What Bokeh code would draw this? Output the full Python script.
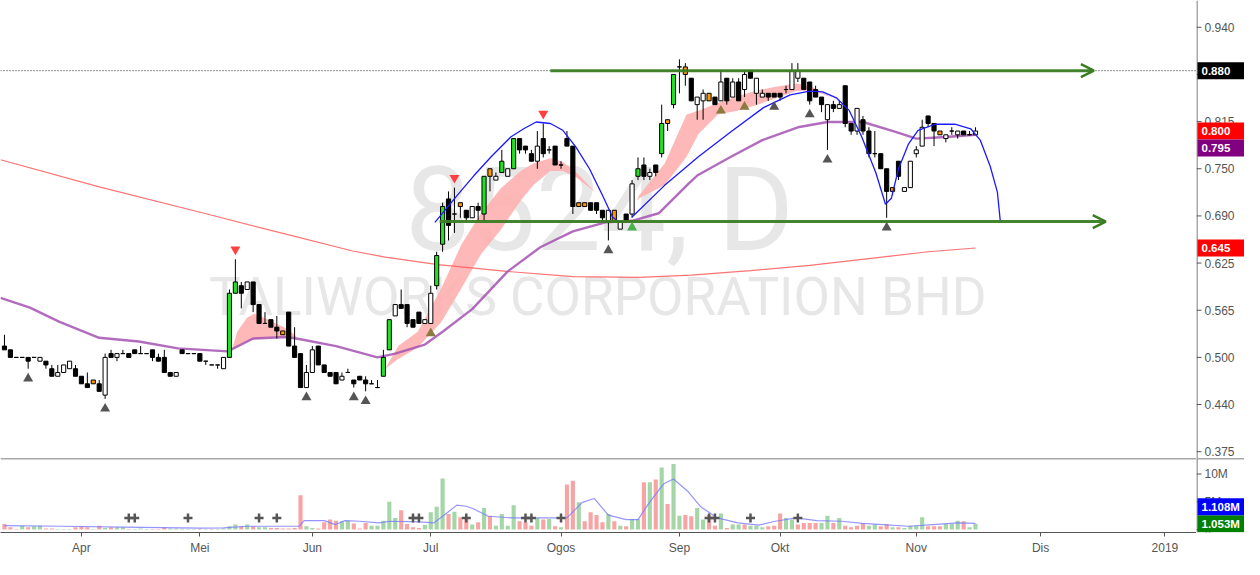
from bokeh.plotting import figure
from bokeh.models import ColumnDataSource, Range1d, FixedTicker, Span, Arrow, OpenHead
from bokeh.layouts import column, row
from bokeh.embed import file_html
from bokeh.resources import INLINE
from bokeh.core.properties import value

# ---------------- data ----------------
opens = [0.515,0.510,0.500,0.500,0.500,0.500,0.495,0.495,0.485,0.475,
         0.480,0.485,0.485,0.475,0.465,0.465,0.465,0.450,0.505,0.500,
         0.505,0.505,0.510,0.505,0.505,0.510,0.500,0.500,0.480,0.475,
         0.510,0.505,0.505,0.505,0.495,0.490,0.490,0.485,0.500,0.585,
         0.595,0.590,0.600,0.570,0.545,0.550,0.540,0.530,0.560,0.515,
         0.505,0.460,0.480,0.515,0.490,0.480,0.480,0.470,0.480,0.470,
         0.475,0.470,0.465,0.460,0.475,0.510,0.555,0.570,0.570,0.550,
         0.560,0.545,0.545,0.595,0.650,0.710,0.690,0.700,0.695,0.685,
         0.700,0.690,0.740,0.735,0.745,0.740,0.750,0.790,0.780,0.770,
         0.760,0.790,0.775,0.780,0.755,0.790,0.780,0.700,0.700,0.705,
         0.705,0.695,0.680,0.680,0.670,0.690,0.690,0.740,0.755,0.740,
         0.755,0.770,0.810,0.835,0.885,0.875,0.870,0.835,0.840,0.840,
         0.845,0.840,0.870,0.845,0.865,0.855,0.880,0.850,0.845,0.850,
         0.850,0.850,0.855,0.855,0.870,0.870,0.865,0.855,0.845,0.815,
         0.835,0.830,0.860,0.810,0.800,0.815,0.800,0.770,0.770,0.750,
         0.720,0.760,0.720,0.725,0.770,0.780,0.820,0.810,0.795,0.790,
         0.800,0.795,0.800,0.795,0.795]
highs = [0.530,0.510,0.500,0.500,0.500,0.500,0.500,0.495,0.490,0.490,
         0.490,0.495,0.490,0.475,0.480,0.470,0.470,0.505,0.510,0.505,
         0.510,0.505,0.510,0.515,0.505,0.510,0.505,0.510,0.480,0.480,
         0.510,0.505,0.505,0.505,0.495,0.490,0.490,0.500,0.590,0.630,
         0.600,0.600,0.600,0.570,0.560,0.550,0.555,0.535,0.560,0.540,
         0.505,0.490,0.515,0.515,0.490,0.480,0.480,0.480,0.485,0.470,
         0.475,0.475,0.470,0.470,0.510,0.550,0.570,0.590,0.570,0.550,
         0.560,0.550,0.595,0.640,0.705,0.720,0.725,0.705,0.695,0.700,
         0.705,0.740,0.750,0.745,0.775,0.750,0.790,0.790,0.780,0.775,
         0.800,0.810,0.780,0.780,0.760,0.800,0.780,0.705,0.705,0.705,
         0.705,0.695,0.695,0.695,0.680,0.690,0.735,0.765,0.765,0.750,
         0.755,0.835,0.815,0.875,0.895,0.890,0.870,0.845,0.855,0.850,
         0.845,0.880,0.870,0.870,0.870,0.880,0.880,0.870,0.855,0.850,
         0.850,0.850,0.860,0.890,0.890,0.870,0.865,0.860,0.845,0.835,
         0.840,0.840,0.860,0.810,0.830,0.820,0.805,0.800,0.770,0.750,
         0.725,0.760,0.725,0.760,0.780,0.815,0.820,0.810,0.800,0.795,
         0.805,0.800,0.800,0.800,0.805]
lows =  [0.510,0.500,0.500,0.500,0.485,0.500,0.495,0.485,0.475,0.475,
         0.480,0.485,0.475,0.465,0.460,0.465,0.455,0.445,0.500,0.495,
         0.505,0.500,0.505,0.505,0.505,0.495,0.495,0.480,0.475,0.475,
         0.505,0.505,0.505,0.495,0.490,0.490,0.485,0.485,0.500,0.585,
         0.565,0.590,0.560,0.545,0.545,0.540,0.525,0.530,0.515,0.500,
         0.460,0.460,0.480,0.490,0.480,0.475,0.465,0.470,0.480,0.460,
         0.470,0.455,0.465,0.460,0.475,0.510,0.555,0.565,0.540,0.540,
         0.545,0.545,0.545,0.590,0.640,0.655,0.665,0.685,0.680,0.685,
         0.680,0.680,0.720,0.735,0.745,0.740,0.750,0.770,0.770,0.760,
         0.750,0.765,0.770,0.755,0.750,0.780,0.690,0.700,0.700,0.695,
         0.690,0.680,0.655,0.680,0.670,0.680,0.685,0.735,0.735,0.735,
         0.740,0.765,0.800,0.830,0.850,0.860,0.840,0.815,0.815,0.840,
         0.835,0.840,0.835,0.845,0.840,0.845,0.870,0.835,0.845,0.840,
         0.845,0.840,0.850,0.855,0.865,0.855,0.835,0.845,0.825,0.775,
         0.825,0.830,0.805,0.795,0.795,0.795,0.765,0.765,0.750,0.685,
         0.715,0.735,0.720,0.725,0.765,0.780,0.805,0.780,0.795,0.785,
         0.795,0.790,0.795,0.795,0.795]
closes = [0.510,0.500,0.500,0.500,0.495,0.500,0.500,0.490,0.475,0.480,
          0.490,0.495,0.475,0.465,0.460,0.470,0.455,0.500,0.500,0.505,
          0.505,0.500,0.505,0.505,0.505,0.500,0.495,0.480,0.475,0.480,
          0.505,0.505,0.505,0.495,0.495,0.490,0.490,0.500,0.585,0.600,
          0.585,0.600,0.570,0.545,0.545,0.540,0.535,0.535,0.515,0.500,
          0.460,0.480,0.510,0.490,0.480,0.475,0.465,0.475,0.480,0.465,
          0.470,0.465,0.465,0.460,0.500,0.550,0.570,0.565,0.545,0.540,
          0.545,0.550,0.585,0.635,0.700,0.675,0.690,0.705,0.685,0.700,
          0.695,0.740,0.750,0.740,0.760,0.750,0.790,0.775,0.775,0.760,
          0.780,0.770,0.775,0.755,0.755,0.780,0.700,0.705,0.705,0.695,
          0.695,0.685,0.695,0.695,0.680,0.680,0.730,0.750,0.740,0.745,
          0.745,0.810,0.815,0.875,0.885,0.885,0.840,0.845,0.850,0.850,
          0.835,0.865,0.840,0.865,0.840,0.875,0.870,0.870,0.850,0.845,
          0.845,0.845,0.855,0.880,0.880,0.855,0.840,0.845,0.835,0.835,
          0.830,0.835,0.810,0.800,0.830,0.800,0.770,0.770,0.750,0.720,
          0.725,0.740,0.725,0.760,0.775,0.805,0.810,0.800,0.800,0.795,
          0.800,0.800,0.795,0.795,0.800]
green_bars = [38, 39, 64, 65, 73, 74, 81, 84, 86, 107, 111, 113]
orange_bars = [15, 47, 77, 82, 97, 98, 103, 112, 115, 119, 150, 158]

# signal triangles
dark_up = [4, 17, 51, 59, 61, 102, 130, 136, 139, 149]
olive_up = [72, 121, 125]
green_up = [106]
red_down = [39, 76, 91]

# volume (millions) and direction
volumes_m = [1.0,0.4,0.1,0.7,0.4,0.6,0.7,0.2,0.2,0.1,
             0.1,0.1,0.4,0.6,0.4,0.1,0.7,0.3,0.4,0.4,
             0.4,0.1,0.1,0.2,0.1,0.1,0.1,0.4,0.2,0.2,
             0.15,0.1,0.1,0.15,0.1,0.1,0.1,0.2,0.6,0.9,
             0.6,0.9,0.6,0.4,0.4,0.3,0.3,0.2,0.2,0.3,
             6.2,0.6,0.3,0.2,1.3,1.8,1.6,1.5,1.6,1.1,
             0.2,1.2,0.7,0.7,1.6,5.0,2.1,3.5,1.0,0.4,
             0.3,0.8,3.1,4.1,9.2,2.8,3.2,2.2,1.9,0.9,
             1.3,3.9,2.5,0.7,2.8,0.7,4.4,1.5,1.3,0.7,
             2.1,1.8,1.9,0.6,0.4,8.1,8.8,4.9,1.5,3.1,
             2.6,1.3,2.8,1.5,0.7,0.6,1.9,1.9,8.5,8.5,
             9.0,11.2,4.6,11.8,2.5,2.6,2.4,3.9,1.8,2.6,
             0.7,2.9,0.3,0.9,0.9,0.9,0.7,0.7,0.4,0.6,
             0.7,2.9,2.1,1.8,0.9,1.2,1.2,1.2,1.2,2.5,
             1.2,2.1,0.7,0.4,0.7,1.2,0.7,0.9,0.6,1.0,
             0.4,0.4,0.3,0.7,0.7,2.2,0.6,0.6,0.6,1.0,
             1.0,1.6,1.5,0.4,1.053]
vol_dir = ("ddduduuddu" "uudddududu" "uduuuddduu" "uuududuuuu" "duduuddddd"
           "duudddduud" "dduuuuuddd" "duuuududdu" "duduuuuddd" "udududdudd"
           "ddududuudu" "duduudduud" "duduuduuud" "dduudddduu" "dudddduudd"
           "uduuuudddu" "uuduu")
cross_bars = [21, 22, 31, 43, 46, 69, 70, 78, 88, 89, 94, 119, 120, 126, 134]

# volume moving average (blue)
vma_x = [0, 10, 20, 33, 37, 41, 49.8, 50.6, 54, 55.9, 57.5, 60, 63.2, 65.2, 70, 72.5, 74.5, 76.4, 78, 79.1,
         81.7, 85.7, 92.3, 95, 97.6, 99.6, 102, 105, 107, 109, 111.3, 113, 115.5, 117.6, 120.4, 123.9,
         127.4, 130.2, 133.7, 137.2, 141.4, 144.9, 148.4, 152.6, 156.8, 161, 164]
vma_y = [0.7, 0.6, 0.45, 0.25, 0.3, 0.6, 0.6, 1.6, 1.6, 0.9, 1.6, 1.5, 1.2, 1.5, 1.4, 1.2, 2.8, 4.4, 4.2, 3.8,
         2.4, 2.1, 2.1, 2.1, 4.9, 5.6, 2.6, 1.8, 1.8, 5.0, 8.2, 9.1, 6.8, 4.1, 2.1, 1.2,
         0.8, 1.5, 2.1, 1.6, 1.5, 1.1, 0.9, 0.6, 0.9, 1.2, 1.108]

# moving averages on price
ma_x = [-0.67, 4.3, 9.3, 16, 22.7, 29.3, 37.7, 42, 47.7, 50, 56, 63, 66, 71, 74, 79, 85, 90.5, 96, 101.5,
        106, 110.5, 115.5, 117, 122.7, 128, 134, 139, 145, 150.5, 154, 159, 164]
ma_y = [0.579, 0.566, 0.547, 0.526, 0.521, 0.512, 0.508, 0.525, 0.527, 0.524, 0.515, 0.500, 0.505, 0.517,
        0.534, 0.564, 0.614, 0.646, 0.667, 0.679, 0.681, 0.691, 0.730, 0.741, 0.766, 0.788, 0.805, 0.812,
        0.812, 0.799, 0.790, 0.792, 0.795]
ma200_x = [-0.67, 16, 34.7, 47.7, 58.8, 64.3, 73.2, 84.8, 96, 107.2, 116, 126, 136, 146, 156, 164]
ma200_y = [0.762, 0.726, 0.689, 0.663, 0.641, 0.633, 0.623, 0.614, 0.607, 0.606, 0.609, 0.615, 0.622,
           0.631, 0.640, 0.645]

# pink cloud segments
segA_x = [38.5, 39.3, 41.0, 42.2, 44.3, 47.2, 49.0, 49.3]
segA_hi = [0.512, 0.534, 0.553, 0.558, 0.551, 0.540, 0.530, 0.527]
segA_lo = [0.512, 0.515, 0.521, 0.524, 0.526, 0.526, 0.527, 0.527]
segB_x = [64.3, 66.5, 69.8, 73.8, 77.2, 80.5, 83.8, 87.2, 89.3, 92.2, 94.3, 96.5, 99.8]
segB_hi = [0.485, 0.515, 0.534, 0.592, 0.650, 0.691, 0.724, 0.747, 0.757, 0.764, 0.759, 0.746, 0.719]
segB_lo = [0.485, 0.498, 0.513, 0.547, 0.592, 0.637, 0.669, 0.708, 0.728, 0.747, 0.747, 0.739, 0.719]
segC_x = [106.8, 107.2, 111.5, 115.2, 117.2, 120.5, 123.8, 127.2, 130.5, 133.8, 136.5, 139.8]
segC_hi = [0.708, 0.715, 0.757, 0.822, 0.827, 0.837, 0.846, 0.854, 0.859, 0.863, 0.858, 0.844]
segC_lo = [0.708, 0.711, 0.728, 0.766, 0.796, 0.822, 0.827, 0.835, 0.844, 0.853, 0.854, 0.844]

# hand drawn arcs (blue)
arc1_x = [72.7, 76.5, 79.3, 82.2, 85.5, 87.7, 89.8, 92.2, 94.3, 96.5, 98.8, 101, 102.7, 103.8, 105.5]
arc1_y = [0.679, 0.715, 0.741, 0.766, 0.792, 0.803, 0.812, 0.810, 0.801, 0.779, 0.750, 0.715, 0.686,
          0.679, 0.680]
arc2_x = [106, 111.5, 117.2, 122.7, 128.2, 132.7, 136, 138.2, 140.5, 142.7, 144.8, 147.2, 148.8, 149.8,
          151, 152.7, 154.3, 157.2, 160.5, 163.2, 164.8, 166.5, 167.7, 168.2]
arc2_y = [0.686, 0.728, 0.766, 0.799, 0.831, 0.848, 0.853, 0.852, 0.844, 0.827, 0.792, 0.744, 0.703,
          0.711, 0.750, 0.783, 0.801, 0.809, 0.809, 0.803, 0.788, 0.753, 0.719, 0.680]

# horizontal arrow levels
arrow_levels = [0.880, 0.680]
arrow_start = [92.2, 73.5]
arrow_end = [184, 186]
dotted_level = 0.880

price_ticks = [0.375, 0.4375, 0.5, 0.5625, 0.625, 0.6875, 0.75, 0.8125, 0.875, 0.9375]
price_tick_labels = ["0.375", "0.440", "0.500", "0.565", "0.625", "0.690", "0.750", "0.815", "0.875", "0.940"]
month_ticks = [13, 33, 52, 72, 94, 114, 131, 154, 175, 196]
month_labels = ["Apr", "Mei", "Jun", "Jul", "Ogos", "Sep", "Okt", "Nov", "Dis", "2019"]
vol_ticks = [0, 5, 10]
vol_tick_labels = ["0", "5M", "10M"]

last_close = 0.800
last_ma = 0.795
last_ma200 = 0.645
last_vol = 1.053
last_vma = 1.108

# ---------------- layout constants ----------------
W = 1244
AXW = 48
H_MAIN = 458
H_VOL = 100
XB = 26
FRAME_W = W - AXW
Y0, Y1 = 0.366, 0.973
V0, V1 = -0.53, 12.8
AXC = "#555555"
FONT = "Liberation Sans"
BOX_PX = 17.0

n = len(closes)
idx = list(range(n))

x_range = Range1d(-0.67, 201.33)
y_main = Range1d(Y0, Y1)
y_vol = Range1d(V0, V1)


def bare(fig):
    fig.outline_line_color = None
    fig.grid.visible = False
    fig.background_fill_color = "white"
    fig.border_fill_color = "white"
    return fig


p = bare(figure(width=FRAME_W, height=H_MAIN, x_range=x_range, y_range=y_main,
                output_backend="svg", toolbar_location=None, x_axis_location=None,
                y_axis_location=None, min_border=0))

# watermark
p.text(x=[100.5], y=[0.695], text=["8524, D"], text_font=value("Roboto"), text_font_size="116px",
       text_color="#e7e7e7", text_align="center", text_baseline="middle")
p.text(x=[100.2], y=[0.580], text=["TALIWORKS CORPORATION BHD"], text_font=value("Roboto"),
       text_font_size="53px", text_color="#e7e7e7", text_align="center", text_baseline="middle")

# pink cloud
for sx, slo, shi in [(segA_x, segA_lo, segA_hi), (segB_x, segB_lo, segB_hi), (segC_x, segC_lo, segC_hi)]:
    p.varea(x=sx, y1=slo, y2=shi, fill_color="#ffb0b0", fill_alpha=0.9)

# moving averages
p.line(ma200_x, ma200_y, line_color="#ff5a5a", line_width=1.2, line_alpha=0.85)
p.line(ma_x, ma_y, line_color="#a452b3", line_width=2.4, line_alpha=0.85)

# horizontal drawings
p.add_layout(Span(location=dotted_level, dimension="width", line_color="#222222",
                  line_dash="1 2", line_width=1))
for lvl, xs, xe in zip(arrow_levels, arrow_start, arrow_end):
    p.add_layout(Arrow(end=OpenHead(size=13, line_color="#3b7d23", line_width=2.5),
                       x_start=xs, y_start=lvl, x_end=xe, y_end=lvl,
                       line_color="#3b7d23", line_width=3, line_alpha=0.95))

# candles
fills = []
for i in idx:
    if i in green_bars:
        fills.append("#22e022")
    elif i in orange_bars:
        fills.append("#ff9800")
    elif closes[i] < opens[i]:
        fills.append("#000000")
    else:
        fills.append("#ffffff")
src = ColumnDataSource(dict(
    x=idx, high=highs, low=lows,
    top=[max(o, c) for o, c in zip(opens, closes)],
    bottom=[min(o, c) for o, c in zip(opens, closes)],
    fill=fills))
p.segment(x0="x", y0="low", x1="x", y1="high", source=src, line_color="black", line_width=1)
p.vbar(x="x", top="top", bottom="bottom", width=0.7, source=src, fill_color="fill",
       line_color="black", line_width=1)

# arcs
p.line(arc1_x, arc1_y, line_color="#1a1aff", line_width=1.3)
p.line(arc2_x, arc2_y, line_color="#1a1aff", line_width=1.3)

# signal triangles
off = 0.013
p.scatter(dark_up, [lows[i] - off for i in dark_up], marker="triangle", size=10,
          fill_color="#555555", line_color=None)
p.scatter(olive_up, [lows[i] - off for i in olive_up], marker="triangle", size=10,
          fill_color="#8a7a3c", line_color=None)
p.scatter(green_up, [lows[i] - off for i in green_up], marker="triangle", size=10,
          fill_color="#4caf50", line_color=None)
p.scatter(red_down, [highs[i] + off for i in red_down], marker="inverted_triangle", size=10,
          fill_color="#ff4040", line_color=None)


# ---------------- price scale column (ticks + value boxes) ----------------
def scale_fig(yr, height, ticks, labels, boxes, bottom_border):
    fa = bare(figure(width=AXW, height=height + bottom_border, x_range=Range1d(0, AXW), y_range=yr,
                     output_backend="svg", toolbar_location=None, x_axis_location=None,
                     y_axis_location=None, min_border=0, min_border_bottom=bottom_border))
    nt = len(ticks)
    fa.segment(x0=[0.5], y0=[yr.start], x1=[0.5], y1=[yr.end], line_color=AXC, line_width=1)
    fa.segment(x0=[0] * nt, y0=ticks, x1=[5] * nt, y1=ticks, line_color=AXC, line_width=1)
    fa.text(x=[8] * nt, y=ticks, text=labels, text_font=value(FONT), text_font_size="12px",
            text_color=AXC, text_baseline="middle", text_align="left")
    hh = BOX_PX / 2.0 * (yr.end - yr.start) / height
    for yv, txt, col in boxes:
        fa.quad(left=[1], right=[AXW], top=[yv + hh], bottom=[yv - hh], fill_color=col, line_color=None)
        fa.text(x=[5], y=[yv], text=[txt], text_font=value(FONT), text_font_size="11.5px",
                text_font_style="bold", text_color="white", text_baseline="middle", text_align="left")
    return fa


box_main = BOX_PX * (Y1 - Y0) / H_MAIN
pa = scale_fig(y_main, H_MAIN, price_ticks, price_tick_labels,
               [(dotted_level, "%.3f" % dotted_level, "#000000"),
                (last_close, "%.3f" % last_close, "#ff0000"),
                (last_close - box_main, "%.3f" % last_ma, "#800080"),
                (last_ma200, "%.3f" % last_ma200, "#ff0000")], 0)

# ---------------- volume panel ----------------
VH = H_VOL - XB
pv = bare(figure(width=FRAME_W, height=H_VOL, x_range=x_range, y_range=y_vol,
                 output_backend="svg", toolbar_location=None, y_axis_location=None,
                 min_border=0, min_border_bottom=XB))
for ax in pv.xaxis:
    ax.ticker = FixedTicker(ticks=month_ticks)
    ax.major_label_overrides = {t: l for t, l in zip(month_ticks, month_labels)}
    ax.axis_line_color = AXC
    ax.major_tick_line_color = AXC
    ax.major_tick_out = 4
    ax.major_tick_in = 0
    ax.minor_tick_line_color = None
    ax.major_label_text_color = AXC
    ax.major_label_text_font_size = "12px"
    ax.major_label_text_font = FONT
    ax.major_label_standoff = 4

vcol = ["#a5d6a7" if d == "u" else "#f7a4a4" for d in vol_dir[:n]]
vcol += ["#a5d6a7"] * (n - len(vcol))
pv.vbar(x=idx, top=volumes_m, bottom=0, width=0.7, fill_color=vcol, line_color=None)
pv.line(vma_x, vma_y, line_color="#7b7bff", line_width=1.2, line_alpha=0.8)
pv.scatter(cross_bars, [2.1] * len(cross_bars), marker="cross", size=9, line_color="#555555",
           line_width=2.5)
pv.add_layout(Span(location=V1, dimension="width", line_color=AXC, line_width=1.5))

box_vol = BOX_PX * (V1 - V0) / VH
pva = scale_fig(y_vol, VH, vol_ticks, vol_tick_labels,
                [(last_vol, "%.3fM" % last_vol, "#008000"),
                 (last_vol + box_vol, "%.3fM" % last_vma, "#0000ff")], XB)
pva.add_layout(Span(location=V1, dimension="width", line_color=AXC, line_width=1.5))

layout = column(row(p, pa), row(pv, pva))
open("out.html", "w").write(file_html(layout, INLINE, "Taliworks 8524"))
